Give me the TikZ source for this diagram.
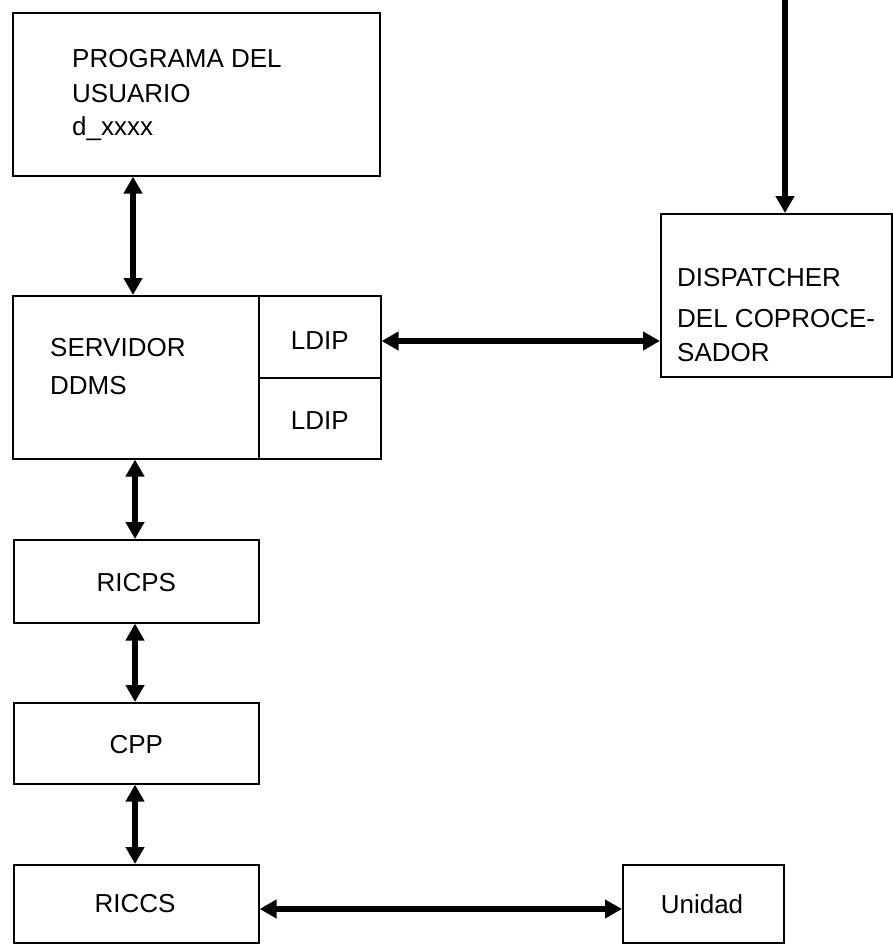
\documentclass[tikz,border=0pt]{standalone}
\usepackage{fontspec}
\setmainfont{Liberation Sans}
\usetikzlibrary{arrows.meta,calc}
\begin{document}
\begin{tikzpicture}[x=1pt,y=-1pt,
  box/.style={draw,line width=1.6pt,inner sep=0pt},
  lbl/.style={inner sep=0pt,font=\fontsize{26}{30}\selectfont},
  lblL/.style={lbl,anchor=west},
  biarrow/.style={line width=5.5pt,{Triangle[length=17pt,width=18pt]}-{Triangle[length=17pt,width=18pt]}},
  onearrow/.style={line width=5.5pt,-{Triangle[length=17pt,width=18pt]}}]
\useasboundingbox[fill=white] (0,0) rectangle (893,944);
% boxes
\node[box,minimum width=367pt,minimum height=163pt,anchor=north west] (prog) at (12,12) {};
\node[box,minimum width=368pt,minimum height=163pt,anchor=north west] (serv) at (12,295) {};
\node[box,minimum width=122pt,minimum height=82pt,anchor=north west] (ldipa) at (258,295) {};
\node[box,minimum width=122pt,minimum height=81pt,anchor=north west] (ldipb) at (258,377) {};
\node[box,minimum width=231pt,minimum height=163pt,anchor=north west] (disp) at (660,213) {};
\node[box,minimum width=245pt,minimum height=83pt,anchor=north west] (ricps) at (13,539) {};
\node[box,minimum width=245pt,minimum height=81pt,anchor=north west] (cpp) at (13,702) {};
\node[box,minimum width=245pt,minimum height=78pt,anchor=north west] (riccs) at (13,864) {};
\node[box,minimum width=161pt,minimum height=78pt,anchor=north west] (unid) at (622,864) {};
% texts
\node[lblL] (t1) at (72,59) {PROGRAMA DEL};
\node[lblL] (t2) at (72,94) {USUARIO};
\node[lblL] (t3) at (72,129) {d\_xxxx};
\node[lblL] (t4) at (50,348) {SERVIDOR};
\node[lblL] (t5) at (50,386) {DDMS};
\node[lbl] (t6) at ($(ldipa.center)+(0,4)$) {LDIP};
\node[lbl] (t7) at ($(ldipb.center)+(0,2)$) {LDIP};
\node[lblL] (t8) at (677,278) {DISPATCHER};
\node[lblL] (t9) at (677,319) {DEL COPROCE-};
\node[lblL] (t10) at (677,353) {SADOR};
\node[lbl] (t11) at ($(ricps.center)+(0,1)$) {RICPS};
\node[lbl] (t12) at ($(cpp.center)+(0,1)$) {CPP};
\node[lbl] (t13) at (135,904) {RICCS};
\node[lbl] (t14) at (702,904) {Unidad};
% connector coordinates
\coordinate (a1) at (133,0);
\coordinate (a2) at (135,0);
\coordinate (a3) at (0,341);
\coordinate (a4) at (785,0);
\coordinate (a5) at (0,909);
% connectors
\draw[biarrow] (prog.south -| a1) -- (serv.north -| a1);
\draw[biarrow] (ldipa.east |- a3) -- (disp.west |- a3);
\draw[onearrow] (a4) -- (disp.north -| a4);
\draw[biarrow] (serv.south -| a2) -- (ricps.north -| a2);
\draw[biarrow] (ricps.south -| a2) -- (cpp.north -| a2);
\draw[biarrow] (cpp.south -| a2) -- (riccs.north -| a2);
\draw[biarrow] (riccs.east |- a5) -- (unid.west |- a5);
\end{tikzpicture}
\end{document}
